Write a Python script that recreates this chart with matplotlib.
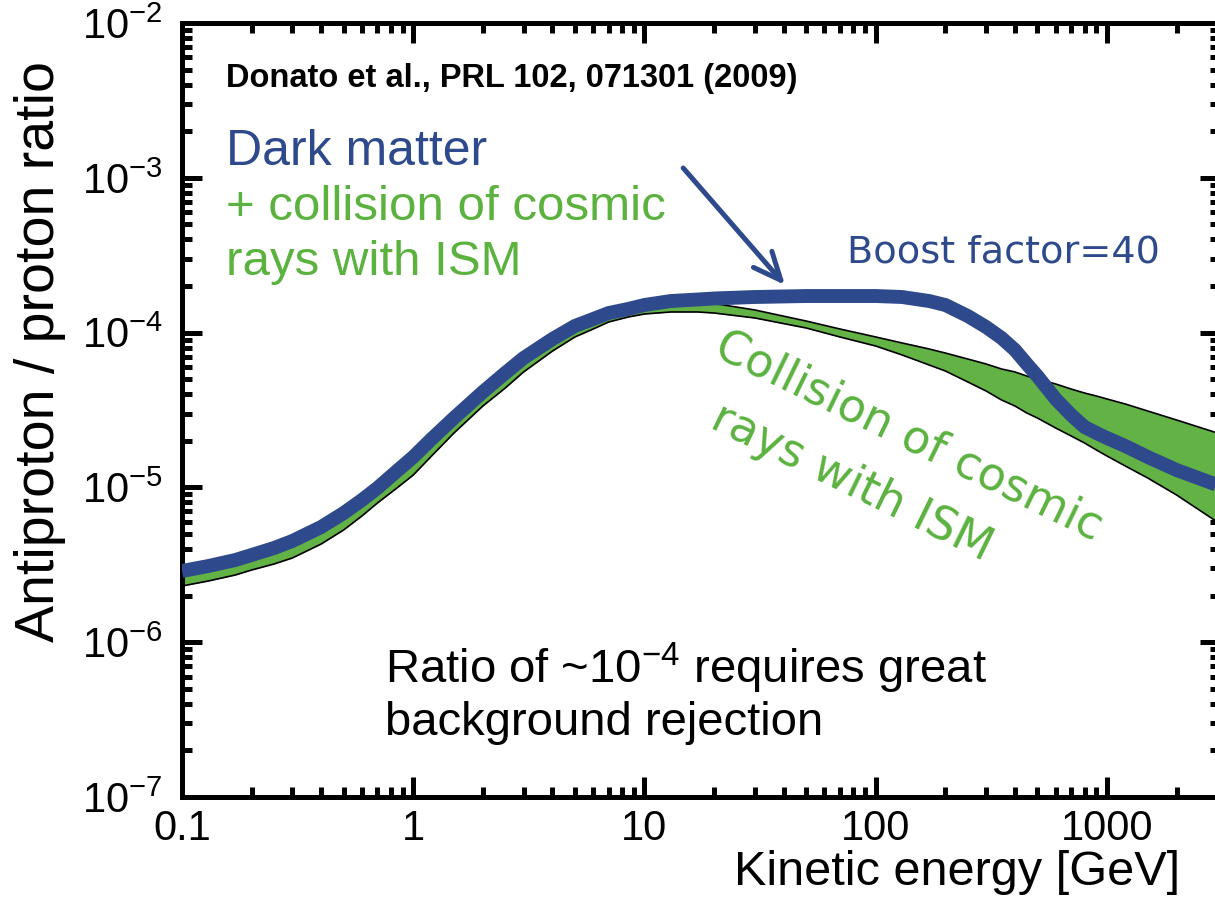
import matplotlib
matplotlib.use("Agg")
import matplotlib.pyplot as plt
from matplotlib.ticker import FixedLocator, FixedFormatter, LogLocator, NullFormatter

plt.rcParams['font.family'] = ['Liberation Sans', 'DejaVu Sans']
plt.rcParams['mathtext.fontset'] = 'custom'
plt.rcParams['mathtext.rm'] = 'Liberation Sans'
plt.rcParams['mathtext.it'] = 'Liberation Sans:italic'
plt.rcParams['mathtext.bf'] = 'Liberation Sans:bold'

# kinetic energy grid [GeV]
energy = [0.1, 0.13, 0.17, 0.2, 0.25, 0.3, 0.4, 0.5, 0.6, 0.7, 0.85,
          1, 1.2, 1.5, 2, 2.5, 3, 4, 5, 6, 7, 8.5,
          10, 13, 17, 20, 30, 50, 70,
          100, 130, 170, 200, 250, 300, 350, 400, 450, 500, 600, 700, 800, 900,
          1000, 1200, 1500, 2000, 3000]

# secondary antiprotons from cosmic-ray collisions with the ISM (uncertainty band)
bg_low = [2.307e-6, 2.485e-6, 2.717e-6, 2.927e-6, 3.20e-6, 3.499e-6, 4.31e-6,
          5.31e-6, 6.54e-6, 7.93e-6, 9.91e-6,
          1.202e-5, 1.595e-5, 2.246e-5, 3.356e-5, 4.386e-5, 5.57e-5, 7.60e-5,
          9.37e-5, 1.055e-4, 1.171e-4, 1.261e-4,
          1.319e-4, 1.359e-4, 1.359e-4, 1.338e-4, 1.243e-4, 1.071e-4, 9.37e-5,
          8.19e-5, 7.17e-5, 6.18e-5, 5.65e-5, 4.80e-5, 4.195e-5, 3.67e-5, 3.356e-5,
          3.024e-5, 2.808e-5, 2.419e-5, 2.148e-5, 1.935e-5, 1.744e-5,
          1.595e-5, 1.375e-5, 1.150e-5, 8.93e-6, 5.976e-6]
bg_high = [2.677e-6, 2.884e-6, 3.153e-6, 3.396e-6, 3.77e-6, 4.18e-6, 5.150e-6,
           6.342e-6, 7.697e-6, 9.20e-6, 1.185e-5,
           1.459e-5, 1.907e-5, 2.606e-5, 3.837e-5, 5.09e-5, 6.36e-5, 8.44e-5,
           1.024e-4, 1.137e-4, 1.243e-4, 1.319e-4,
           1.400e-4, 1.485e-4, 1.519e-4, 1.542e-4, 1.400e-4, 1.188e-4, 1.055e-4,
           9.37e-5, 8.57e-5, 7.84e-5, 7.38e-5, 6.75e-5, 6.27e-5, 5.82e-5, 5.57e-5,
           5.24e-5, 5.015e-5, 4.656e-5, 4.32e-5, 4.07e-5, 3.894e-5,
           3.725e-5, 3.458e-5, 3.115e-5, 2.725e-5, 2.246e-5]

# dark matter (boost factor 40) + secondaries
dm_total = [2.884e-6, 3.105e-6, 3.396e-6, 3.659e-6, 4.06e-6, 4.505e-6, 5.55e-6,
            6.83e-6, 8.29e-6, 9.91e-6, 1.276e-5,
            1.572e-5, 2.054e-5, 2.808e-5, 4.134e-5, 5.483e-5, 6.85e-5, 9.09e-5,
            1.103e-4, 1.224e-4, 1.338e-4, 1.421e-4,
            1.508e-4, 1.600e-4, 1.636e-4, 1.661e-4, 1.698e-4, 1.723e-4, 1.723e-4,
            1.723e-4, 1.698e-4, 1.600e-4, 1.508e-4, 1.280e-4, 1.087e-4, 9.23e-5, 7.72e-5,
            6.27e-5, 5.24e-5, 3.725e-5, 2.936e-5, 2.456e-5, 2.246e-5,
            2.085e-5, 1.851e-5, 1.572e-5, 1.295e-5, 1.036e-5]

x_ticks = [0.1, 1, 10, 100, 1000]
x_ticklabels = ['0.1', '1', '10', '100', '1000']
y_ticks = [1e-7, 1e-6, 1e-5, 1e-4, 1e-3, 1e-2]
y_ticklabels = [r'$\mathregular{10^{-7}}$', r'$\mathregular{10^{-6}}$', r'$\mathregular{10^{-5}}$',
                r'$\mathregular{10^{-4}}$', r'$\mathregular{10^{-3}}$', r'$\mathregular{10^{-2}}$']

BLUE = '#2E4A8C'
GREEN = '#63B245'
GREEN_TXT = '#5BB23F'

fig = plt.figure(figsize=(12.15, 8.98), dpi=100)
ax = fig.add_axes([182 / 1215, 1 - 797 / 898, (1220 - 182) / 1215, (797 - 23) / 898])
ax.set_xscale('log')
ax.set_yscale('log')
ax.set_xlim(0.1, 3081)
ax.set_ylim(1e-7, 1e-2)

ax.fill_between(energy, bg_low, bg_high, color=GREEN, lw=0, zorder=2)
ax.plot(energy, bg_low, color='black', lw=1.2, zorder=3)
ax.plot(energy, bg_high, color='black', lw=1.2, zorder=3)
ax.plot(energy, dm_total, color=BLUE, lw=10, solid_capstyle='butt',
        solid_joinstyle='round', zorder=4)

ax.annotate('', xy=(40.5, 2.03e-4), xytext=(14.7, 1.157e-3),
            arrowprops=dict(arrowstyle='->,head_length=0.5,head_width=0.22',
                            mutation_scale=40, color=BLUE, lw=3.6,
                            shrinkA=0, shrinkB=0), zorder=5)

# axes styling
for sp in ax.spines.values():
    sp.set_linewidth(3.6)
ax.xaxis.set_major_locator(FixedLocator(x_ticks))
ax.xaxis.set_major_formatter(FixedFormatter(x_ticklabels))
ax.yaxis.set_major_locator(FixedLocator(y_ticks))
ax.yaxis.set_major_formatter(FixedFormatter(y_ticklabels))
ax.xaxis.set_minor_locator(LogLocator(base=10, subs=range(2, 10), numticks=20))
ax.yaxis.set_minor_locator(LogLocator(base=10, subs=range(2, 10), numticks=20))
ax.xaxis.set_minor_formatter(NullFormatter())
ax.yaxis.set_minor_formatter(NullFormatter())
ax.tick_params(which='both', direction='in', top=True, right=True, width=3.6)
ax.tick_params(which='major', length=14.4, labelsize=30)
ax.tick_params(which='minor', length=7.2)
ax.tick_params(axis='x', pad=9)
ax.tick_params(axis='y', pad=14)

fig.text(1180 / 1215, 1 - 885 / 898, 'Kinetic energy [GeV]', fontsize=35,
         ha='right', va='baseline')
fig.text(40 / 1215, 1 - 352 / 898, 'Antiproton / proton ratio', fontsize=40,
         rotation=90, ha='center', va='center')

tr = ax.transAxes
ax.text(0.0424, 0.917, 'Donato et al., PRL 102, 071301 (2009)', transform=tr,
        fontsize=23.5, fontweight='bold', va='baseline')
ax.text(0.0424, 0.8165, 'Dark matter', transform=tr, fontsize=36, color=BLUE,
        va='baseline')
ax.text(0.0424, 0.7455, '+ collision of cosmic', transform=tr, fontsize=35.5,
        color=GREEN_TXT, va='baseline')
ax.text(0.0424, 0.6744, 'rays with ISM', transform=tr, fontsize=35.5,
        color=GREEN_TXT, va='baseline')
ax.text(0.641, 0.691, 'Boost factor=40', transform=tr, fontsize=27.5,
        color=BLUE, family='DejaVu Sans', va='baseline')
ax.text(0.5106, 0.572, 'Collision of cosmic', transform=tr, fontsize=33,
        color=GREEN_TXT, family='DejaVu Sans', rotation=-26,
        rotation_mode='anchor', ha='left', va='baseline')
ax.text(0.5067, 0.4776, 'rays with ISM', transform=tr, fontsize=33,
        color=GREEN_TXT, family='DejaVu Sans', rotation=-26,
        rotation_mode='anchor', ha='left', va='baseline')
ax.text(0.1956, 0.1473, r'Ratio of ~10$^{\mathregular{-4}}$ requires great', transform=tr,
        fontsize=34, va='baseline')
ax.text(0.1956, 0.0801, 'background rejection', transform=tr, fontsize=34,
        va='baseline')

fig.savefig('out.png', dpi=100)
